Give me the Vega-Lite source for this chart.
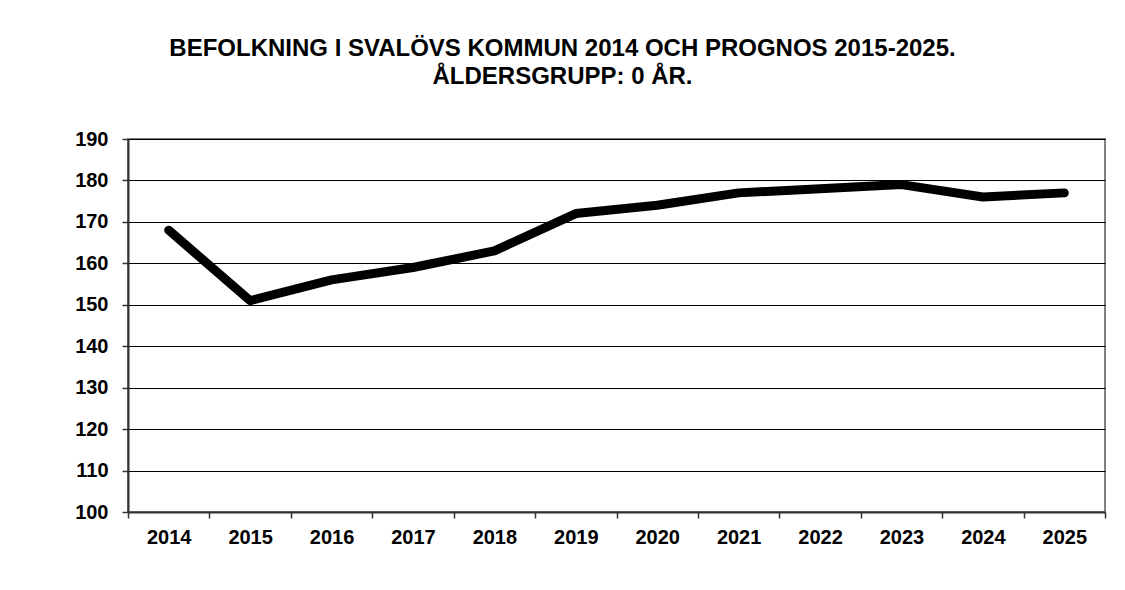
{
  "$schema": "https://vega.github.io/schema/vega-lite/v6.json",
  "width": 977,
  "height": 373,
  "autosize": "none",
  "padding": {"left": 128, "top": 139, "right": 20, "bottom": 78},
  "background": "white",
  "title": {
    "text": ["BEFOLKNING I SVALÖVS KOMMUN 2014 OCH PROGNOS 2015-2025.", "ÅLDERSGRUPP: 0 ÅR."],
    "font": "Liberation Sans",
    "fontSize": 24,
    "fontWeight": "bold",
    "color": "#000000",
    "anchor": "middle",
    "lineHeight": 28,
    "offset": 40,
    "dx": -54
  },
  "data": {
    "values": [
      {"year": "2014", "value": 168},
      {"year": "2015", "value": 151},
      {"year": "2016", "value": 156},
      {"year": "2017", "value": 159},
      {"year": "2018", "value": 163},
      {"year": "2019", "value": 172},
      {"year": "2020", "value": 174},
      {"year": "2021", "value": 177},
      {"year": "2022", "value": 178},
      {"year": "2023", "value": 179},
      {"year": "2024", "value": 176},
      {"year": "2025", "value": 177}
    ]
  },
  "mark": {"type": "line", "color": "#000000", "strokeWidth": 9, "strokeCap": "round", "strokeJoin": "round"},
  "encoding": {
    "x": {
      "field": "year",
      "type": "ordinal",
      "scale": {"type": "band", "paddingInner": 0, "paddingOuter": 0},
      "axis": {
        "title": null,
        "labelAngle": 0,
        "tickBand": "extent",
        "grid": false,
        "labelFont": "Liberation Sans",
        "labelFontSize": 20,
        "labelFontWeight": "bold",
        "labelColor": "#000000",
        "labelPadding": 9,
        "tickSize": 6,
        "tickColor": "#333333",
        "tickWidth": 1.5,
        "domainColor": "#333333",
        "domainWidth": 2
      }
    },
    "y": {
      "field": "value",
      "type": "quantitative",
      "scale": {"domain": [100, 190], "nice": false, "zero": false},
      "axis": {
        "title": null,
        "values": [100, 110, 120, 130, 140, 150, 160, 170, 180, 190],
        "grid": true,
        "gridColor": "#000000",
        "gridWidth": 1,
        "labelFont": "Liberation Sans",
        "labelFontSize": 20,
        "labelFontWeight": "bold",
        "labelColor": "#000000",
        "labelPadding": 14,
        "tickSize": 6,
        "tickColor": "#333333",
        "tickWidth": 1.5,
        "domainColor": "#333333",
        "domainWidth": 2
      }
    }
  },
  "config": {
    "view": {"stroke": "#808080", "strokeWidth": 2}
  }
}
